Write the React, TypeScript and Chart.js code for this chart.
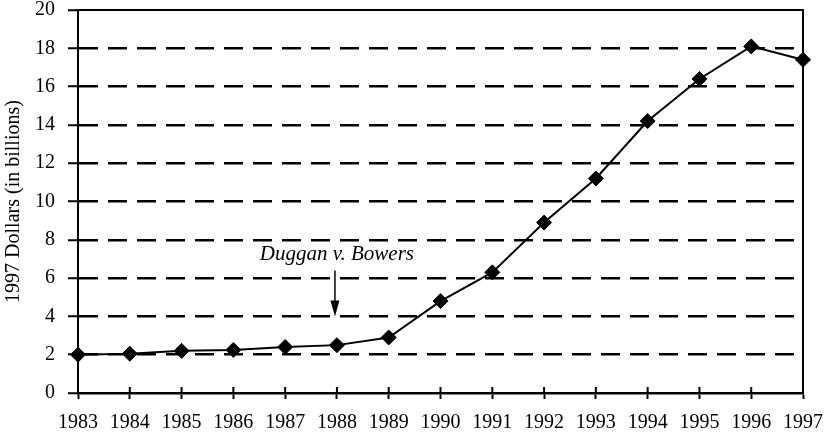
import { useEffect, useRef } from 'react';
import { Chart, registerables } from 'chart.js';

Chart.register(...registerables);

const years = ['1983', '1984', '1985', '1986', '1987', '1988', '1989', '1990', '1991', '1992', '1993', '1994', '1995', '1996', '1997'];
const spending = [2.0, 2.05, 2.2, 2.25, 2.4, 2.5, 2.9, 4.8, 6.3, 8.9, 11.2, 14.2, 16.4, 18.1, 17.4];
const yAxisTitle = '1997 Dollars (in billions)';
const annotationText = 'Duggan v. Bowers';
const annotationYear = '1988';
const annotationTextValue = 6.95;
const annotationArrowFrom = 6.4;
const annotationArrowTo = 4.0;

const FONT = 'Liberation Serif, Times New Roman, serif';

const framePlugin = {
  id: 'frame',
  afterDraw(chart: any) {
    const { ctx, chartArea } = chart;
    const xs = chart.scales.x;
    ctx.save();
    ctx.strokeStyle = '#000';
    ctx.lineWidth = 2;
    ctx.beginPath();
    ctx.moveTo(chartArea.left - 1, chartArea.top);
    ctx.lineTo(chartArea.right, chartArea.top);
    ctx.lineTo(chartArea.right, chartArea.bottom);
    ctx.stroke();
    // inner part of the x tick marks
    ctx.beginPath();
    for (let i = 1; i < xs.ticks.length - 1; i++) {
      const px = xs.getPixelForTick(i);
      ctx.moveTo(px, chartArea.bottom);
      ctx.lineTo(px, chartArea.bottom - 6);
    }
    ctx.stroke();
    ctx.restore();
  },
};

const annotationPlugin = {
  id: 'annot',
  afterDatasetsDraw(chart: any) {
    const { ctx } = chart;
    const xs = chart.scales.x;
    const ys = chart.scales.y;
    const x = xs.getPixelForValue(years.indexOf(annotationYear)) - 2;
    ctx.save();
    ctx.fillStyle = '#000';
    ctx.strokeStyle = '#000';
    ctx.font = `italic 21px ${FONT}`;
    ctx.textAlign = 'center';
    ctx.textBaseline = 'alphabetic';
    ctx.fillText(annotationText, x + 2, ys.getPixelForValue(annotationTextValue));
    const y1 = ys.getPixelForValue(annotationArrowFrom);
    const y2 = ys.getPixelForValue(annotationArrowTo);
    ctx.lineWidth = 1.5;
    ctx.beginPath();
    ctx.moveTo(x, y1);
    ctx.lineTo(x, y2 - 8);
    ctx.stroke();
    ctx.beginPath();
    ctx.moveTo(x - 4.5, y2 - 16);
    ctx.lineTo(x + 4.5, y2 - 16);
    ctx.lineTo(x, y2);
    ctx.closePath();
    ctx.fill();
    ctx.restore();
  },
};

export default function App() {
  const ref = useRef<HTMLCanvasElement>(null);
  useEffect(() => {
    document.body.style.margin = '0';
    const chart = new Chart(ref.current!, {
      type: 'line',
      data: {
        labels: years,
        datasets: [
          {
            data: spending,
            borderColor: '#000',
            backgroundColor: '#000',
            borderWidth: 2,
            pointStyle: 'rectRot',
            pointRadius: 7.5,
            pointBackgroundColor: '#000',
            pointBorderColor: '#000',
            pointBorderWidth: 1,
            tension: 0,
            clip: false as any,
          },
        ],
      },
      options: {
        animation: false,
        responsive: false,
        layout: { padding: { left: 0, right: 29, top: 10, bottom: 0 } },
        plugins: { legend: { display: false }, tooltip: { enabled: false } },
        scales: {
          x: {
            type: 'category',
            offset: false,
            grid: {
              drawOnChartArea: false,
              drawTicks: true,
              tickLength: 6,
              tickColor: '#000',
              tickWidth: 2,
            },
            border: { display: true, color: '#000', width: 2.5 },
            ticks: {
              color: '#000',
              font: { family: FONT, size: 20 },
              padding: 12,
              maxRotation: 0,
              autoSkip: false,
            },
            afterFit: (s: any) => {
              s.height = 41;
              s.paddingLeft = 0;
              s.paddingRight = 0;
            },
          },
          y: {
            min: 0,
            max: 20,
            ticks: {
              stepSize: 2,
              color: '#000',
              font: { family: FONT, size: 20 },
              padding: 13,
            },
            grid: {
              color: (c: any) => (c.tick && (c.tick.value === 0 || c.tick.value === 20) ? 'rgba(0,0,0,0)' : '#000'),
              lineWidth: 2.5,
              tickLength: 10,
              tickColor: '#000',
              tickWidth: 2,
              tickBorderDash: [],
            } as any,
            border: { display: true, color: '#000', width: 2, dash: [19, 10] } as any,
            title: {
              display: true,
              text: yAxisTitle,
              color: '#000',
              font: { family: FONT, size: 20 },
              padding: { top: 2, bottom: 0 },
            },
            afterFit: (s: any) => {
              s.width = 78;
              s.paddingTop = 0;
              s.paddingBottom = 0;
            },
          },
        },
      },
      plugins: [framePlugin, annotationPlugin],
    });
    return () => chart.destroy();
  }, []);
  return (
    <div style={{ position: 'absolute', left: 0, top: 0, width: 832, height: 434, background: '#fff' }}>
      <canvas ref={ref} width={832} height={434} />
    </div>
  );
}
